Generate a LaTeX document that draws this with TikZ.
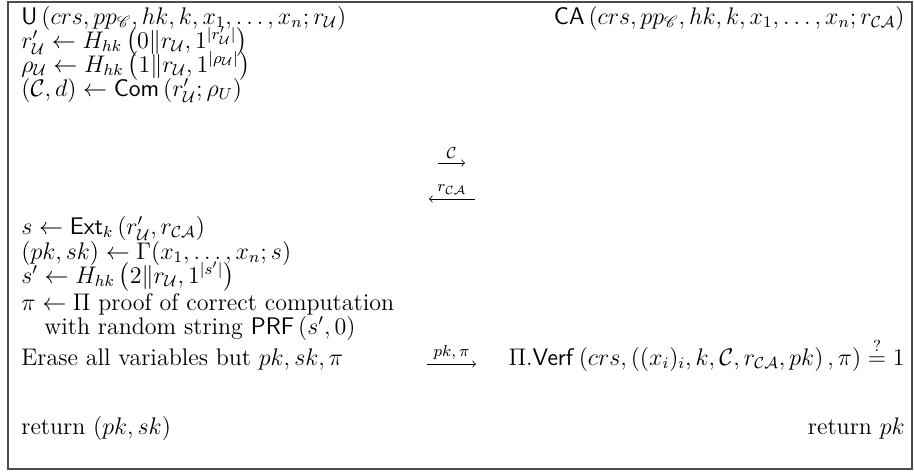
\documentclass[tikz,border=0pt]{standalone}
\usepackage{amsmath,amssymb,mathrsfs}
\usetikzlibrary{positioning}

\begin{document}
\begin{tikzpicture}[x=0.5pt,y=-0.5pt,
    lline/.style={anchor=base west,inner sep=0pt,font=\large},
    rline/.style={anchor=base east,inner sep=0pt,font=\large},
    msg/.style={above=2pt,inner sep=0pt,font=\footnotesize}]
    \useasboundingbox (0,0) rectangle (914,473);
    \draw[line width=0.9pt,black!70] (8,2) rectangle (912,469);
    \node[lline] (uhead) at (21,24)
        {$\mathsf{U}\left(crs, pp_{\mathscr{C}}, hk, k, x_1, \ldots, x_n; r_{\mathcal{U}}\right)$};
    \node[rline] (cahead) at (905,24)
        {$\mathsf{CA}\left(crs, pp_{\mathscr{C}}, hk, k, x_1, \ldots, x_n; r_{\mathcal{CA}}\right)$};
    \node[lline] (rprime) at (21,48)
        {$r'_{\mathcal{U}} \leftarrow H_{hk}\left(0\|r_{\mathcal{U}}, 1^{|r'_{\mathcal{U}}|}\right)$};
    \node[lline] (rho) at (21,72)
        {$\rho_{\mathcal{U}} \leftarrow H_{hk}\left(1\|r_{\mathcal{U}}, 1^{|\rho_{\mathcal{U}}|}\right)$};
    \node[lline] (com) at (21,96)
        {$(\mathcal{C}, d) \leftarrow \mathsf{Com}\left(r'_{\mathcal{U}}; \rho_U\right)$};
    \coordinate (c1) at (438,163);
    \coordinate (c2) at (465,163);
    \draw[->] (c1) -- node[msg] (cmsg) {$\mathcal{C}$} (c2);
    \coordinate (r1) at (475,199);
    \coordinate (r2) at (429,199);
    \draw[->] (r1) -- node[msg] (rmsg) {$r_{\mathcal{CA}}$} (r2);
    \node[lline] (ext) at (21,234)
        {$s \leftarrow \mathsf{Ext}_k\left(r'_{\mathcal{U}}, r_{\mathcal{CA}}\right)$};
    \node[lline] (gen) at (21,259)
        {$(pk, sk) \leftarrow \Gamma(x_1, \ldots, x_n; s)$};
    \node[lline] (sprime) at (21,283)
        {$s' \leftarrow H_{hk}\left(2\|r_{\mathcal{U}}, 1^{|s'|}\right)$};
    \node[lline] (proof) at (21,310)
        {$\pi \leftarrow \Pi$ proof of correct computation};
    \node[lline] (rand) at (44,334)
        {with random string $\mathsf{PRF}\left(s', 0\right)$};
    \node[lline] (erase) at (21,365)
        {Erase all variables but $pk, sk, \pi$};
    \coordinate (p1) at (427,364);
    \coordinate (p2) at (476,364);
    \draw[->] (p1) -- node[msg] (pmsg) {$pk, \pi$} (p2);
    \node[rline] (verf) at (905,365)
        {$\Pi.\mathsf{Verf}\left(crs, \left((x_i)_i, k, \mathcal{C}, r_{\mathcal{CA}}, pk\right), \pi\right) \stackrel{?}{=} 1$};
    \node[lline] (uret) at (21,434) {return $(pk, sk)$};
    \node[rline] (caret) at (905,434) {return $pk$};
\end{tikzpicture}
\end{document}
